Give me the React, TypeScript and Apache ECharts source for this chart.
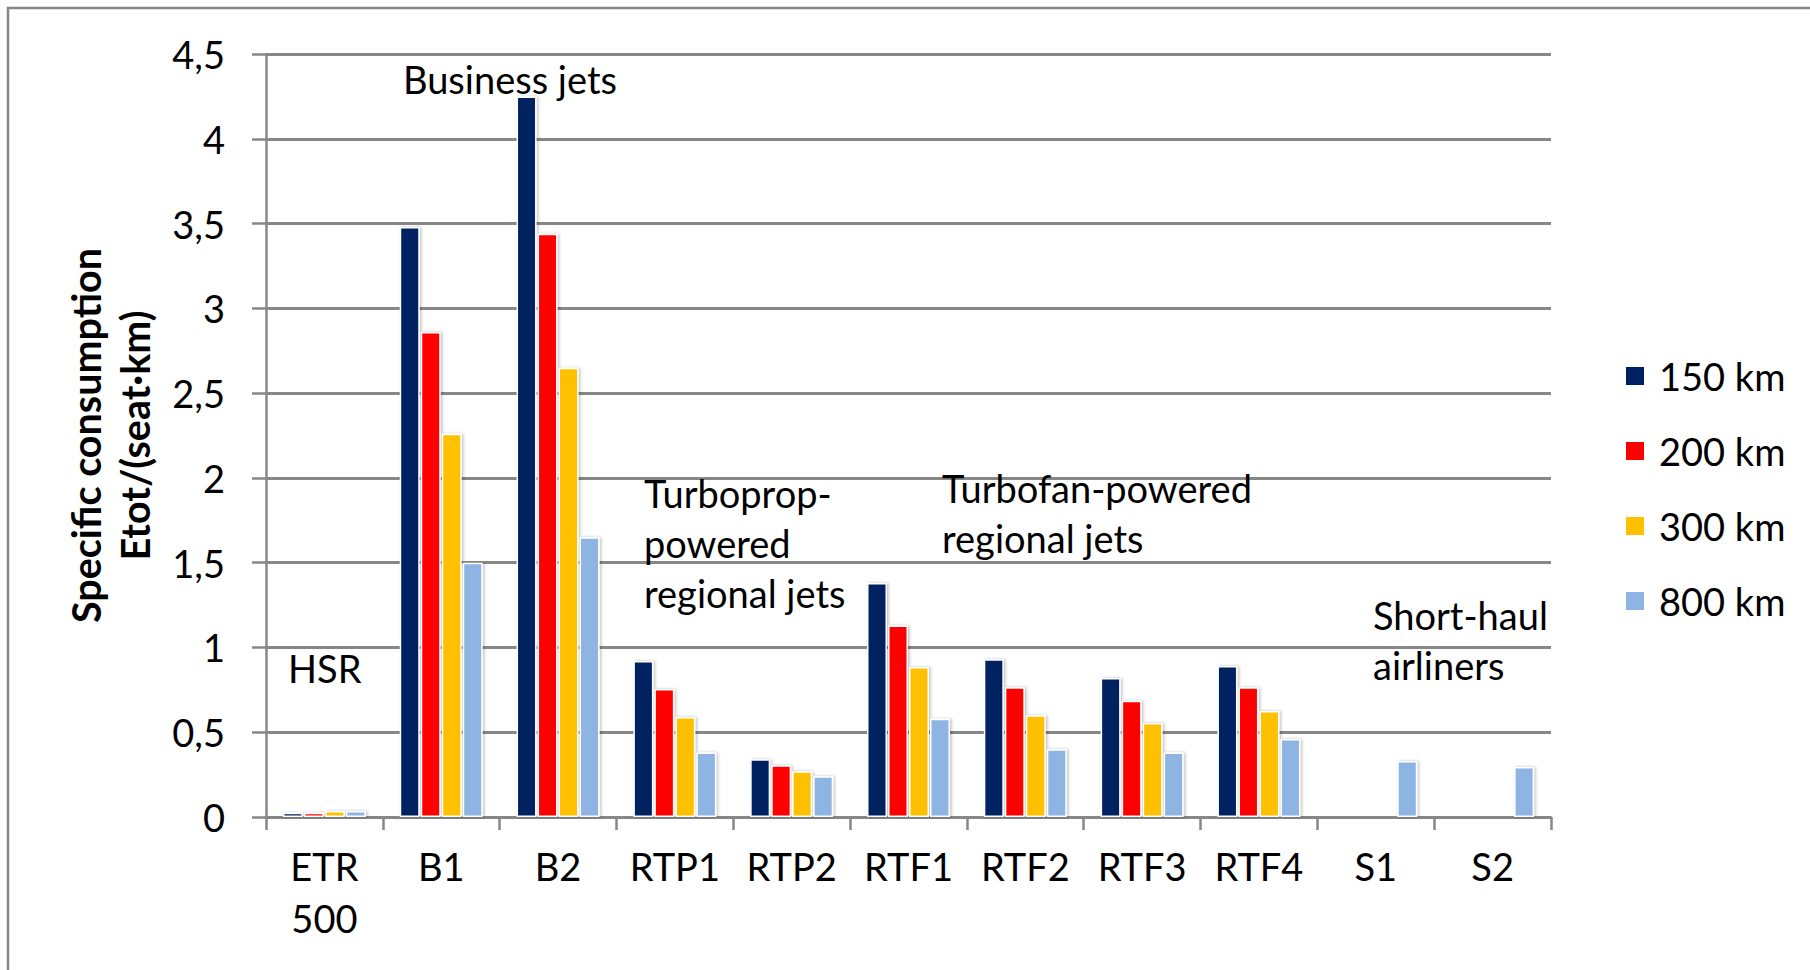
import React, { useEffect, useRef } from "react";
import * as echarts from "echarts";

const categories = ["ETR 500", "B1", "B2", "RTP1", "RTP2", "RTF1", "RTF2", "RTF3", "RTF4", "S1", "S2"];
const seriesNames = ["150 km", "200 km", "300 km", "800 km"];
const values150 = [0.025, 3.48, 4.25, 0.92, 0.34, 1.38, 0.93, 0.82, 0.89, null, null];
const values200 = [0.025, 2.86, 3.44, 0.755, 0.305, 1.13, 0.765, 0.685, 0.765, null, null];
const values300 = [0.035, 2.26, 2.65, 0.59, 0.27, 0.885, 0.6, 0.555, 0.625, null, null];
const values800 = [0.035, 1.5, 1.65, 0.38, 0.24, 0.58, 0.4, 0.38, 0.46, 0.33, 0.295];
const seriesColors = ["#002060", "#FF0000", "#FFC000", "#8EB4E3"];
const yTicks = { min: 0, max: 4.5, interval: 0.5 };
const yTitle = "Specific consumption\nEtot/(seat·km)";

const annotations = [
  { text: "Business jets", x: 403, y: 79 },
  { text: "HSR", x: 288, y: 668 },
  { text: "Turboprop-\npowered\nregional jets", x: 644, y: 543 },
  { text: "Turbofan-powered\nregional jets", x: 942, y: 513 },
  { text: "Short-haul\nairliners", x: 1373, y: 640 },
];

const FONT = 'Lato, "Noto Sans", sans-serif';
const GRAY = "#878787";
const FS = 38;

export default function App() {
  const ref = useRef<HTMLDivElement>(null);
  useEffect(() => {
    if (!ref.current) return;
    const chart = echarts.init(ref.current, null, { renderer: "svg" });
    const allValues = [values150, values200, values300, values800];
    chart.setOption({
      animation: false,
      backgroundColor: "#ffffff",
      textStyle: { fontFamily: FONT },
      grid: { left: 266, right: 259, top: 54, bottom: 153, containLabel: false },
      legend: {
        orient: "vertical",
        left: 1619,
        top: 351,
        itemWidth: 20,
        itemHeight: 20,
        itemGap: 35,
        icon: "rect",
        data: seriesNames,
        textStyle: { fontFamily: FONT, fontSize: FS, color: "#000", lineHeight: 40, padding: [0, 0, 0, 9] },
      },
      xAxis: {
        type: "category",
        data: categories,
        boundaryGap: true,
        axisLine: { lineStyle: { color: GRAY, width: 2.5 } },
        axisTick: { show: true, alignWithLabel: false, interval: 0, length: 13, lineStyle: { color: GRAY, width: 2.5 } },
        axisLabel: {
          interval: 0,
          margin: 23,
          fontFamily: FONT,
          fontSize: FS,
          color: "#000",
          lineHeight: 52,
          formatter: (v: string) => v.replace(" ", "\n"),
        },
      },
      yAxis: {
        type: "value",
        min: yTicks.min,
        max: yTicks.max,
        interval: yTicks.interval,
        name: yTitle,
        nameLocation: "middle",
        nameGap: 107,
        nameTextStyle: { fontFamily: FONT, fontSize: 39.5, fontWeight: "bold", color: "#000", lineHeight: 49 },
        axisLine: { show: true, lineStyle: { color: GRAY, width: 2.5 } },
        axisTick: { show: true, length: 14, lineStyle: { color: GRAY, width: 2.5 } },
        splitLine: { show: true, lineStyle: { color: GRAY, width: 3 } },
        axisLabel: {
          margin: 41,
          fontFamily: FONT,
          fontSize: FS,
          color: "#000",
          formatter: (v: number) => String(v).replace(".", ","),
        },
      },
      series: seriesNames.map((name, i) => ({
        name,
        type: "bar",
        data: allValues[i],
        barWidth: 20,
        barGap: "5%",
        itemStyle: {
          color: seriesColors[i],
          borderColor: "#ffffff",
          borderWidth: 1.5,
          shadowColor: "rgba(0,0,0,0.25)",
          shadowBlur: 3,
          shadowOffsetX: 1.5,
          shadowOffsetY: 0,
        },
      })),
      graphic: [
        {
          type: "rect",
          shape: { x: 8, y: 8, width: 1900, height: 1000 },
          style: { fill: "none", stroke: GRAY, lineWidth: 2.5 },
          silent: true,
          z: 100,
        },
        ...annotations.map((a) => ({
          type: "text",
          x: a.x,
          y: a.y,
          z: 100,
          style: {
            text: a.text,
            fontFamily: FONT,
            fontSize: FS,
            lineHeight: 50,
            fill: "#000",
            align: "left",
            verticalAlign: "middle",
          },
        })),
      ],
    });
    return () => chart.dispose();
  }, []);
  return (
    <div
      ref={ref}
      style={{ position: "fixed", left: 0, top: 0, width: 1810, height: 970, background: "#fff" }}
    />
  );
}
